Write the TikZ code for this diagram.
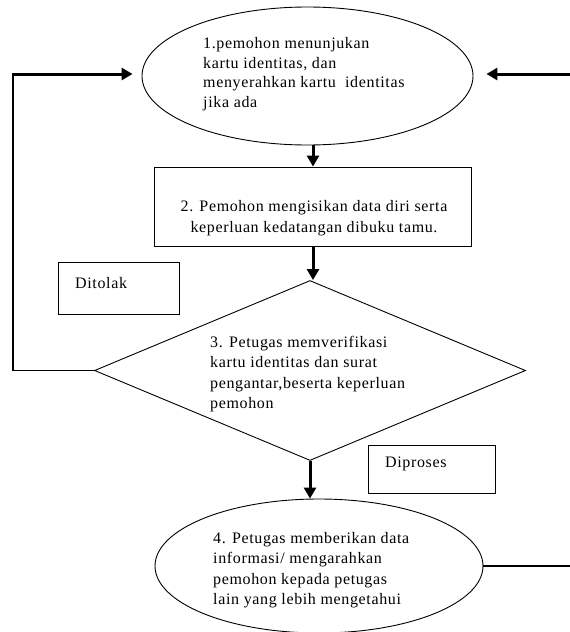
\documentclass[tikz,border=0pt]{standalone}
\usepackage{fontspec}
\setmainfont{Liberation Serif}[LetterSpace=4]
\usetikzlibrary{arrows.meta,shapes.geometric}
\begin{document}
\begin{tikzpicture}[x=1pt,y=-1pt,
  shapeline/.style={draw=black, line width=0.9pt, inner sep=0pt},
  flowarrow/.style={line width=3pt, -{Triangle[length=11pt,width=12pt]}},
  thinline/.style={line width=1.3pt},
  txt/.style={inner sep=0pt, align=left, anchor=west, font=\fontsize{16}{19.5}\selectfont},
  dtxt/.style={inner sep=0pt, align=left, anchor=west, font=\fontsize{16}{20.5}\selectfont},
  ctxt/.style={inner sep=0pt, align=center, anchor=center, font=\fontsize{16}{20.5}\selectfont}]
\fill[white] (0,0) rectangle (570,632);
\useasboundingbox (0,0) rectangle (570,632);

% shapes
\node[ellipse, shapeline, minimum width=331pt, minimum height=138pt] (e1) at (307.5,76) {};
\node[txt] (t1) at (203,74) {1.pemohon menunjukan\\kartu identitas, dan\\menyerahkan kartu\ \ identitas\\jika ada};

\node[rectangle, shapeline, minimum width=317pt, minimum height=79pt] (r2) at (313,206.5) {};
\node[ctxt] (t2) at (314,218) {2. Pemohon mengisikan data diri serta\\keperluan kedatangan dibuku tamu.};

\node[rectangle, shapeline, minimum width=121pt, minimum height=52pt] (b1) at (118.5,288) {};
\node[txt] (tb1) at (75,283) {Ditolak};

\node[diamond, shapeline, minimum width=431pt, minimum height=180pt] (d3) at (310,370.5) {};
\node[dtxt] (t3) at (210,374) {3. Petugas memverifikasi\\kartu identitas dan surat\\pengantar,beserta keperluan\\pemohon};

\node[rectangle, shapeline, minimum width=127pt, minimum height=48pt] (b2) at (431.5,469) {};
\node[txt] (tb2) at (385,464) {Diproses};

\node[ellipse, shapeline, minimum width=328pt, minimum height=134pt] (e4) at (319,566) {};
\node[dtxt] (t4) at (213,570) {4. Petugas memberikan data\\informasi/ mengarahkan\\pemohon kepada petugas\\lain yang lebih mengetahui};

% free ends
\coordinate (lc1) at (13,370.5);
\coordinate (lc2) at (13,74);
\coordinate (rc) at (570,74);
\coordinate (brc) at (570,566);

% connectors
\draw[flowarrow] (r2.north |- e1.south) -- (r2.north);
\draw[flowarrow] (r2.south) -- (r2.south |- d3.north);
\draw[flowarrow] (d3.south) -- (d3.south |- e4.north);
\draw[thinline] (d3.west) -- (lc1) -- (lc2);
\draw[flowarrow, shorten >=9pt] ([xshift=-0.65pt]lc2) -- (e1.west |- lc2);
\draw[flowarrow, shorten >=13pt] (rc) -- (e1.east |- rc);
\draw[thinline] (e4.east) -- (brc);
\end{tikzpicture}
\end{document}
